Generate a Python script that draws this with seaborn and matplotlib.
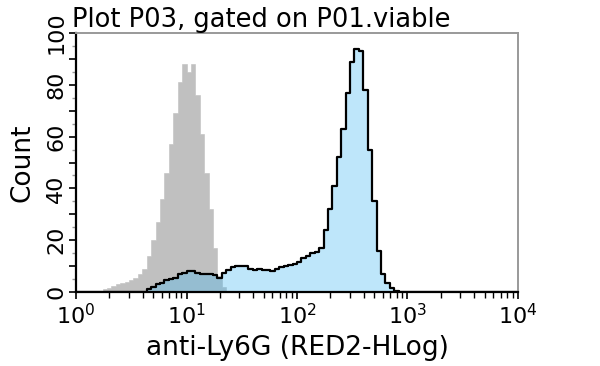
import numpy as np
import matplotlib
matplotlib.use("Agg")
import matplotlib.pyplot as plt
from matplotlib.ticker import MultipleLocator, FuncFormatter, LogLocator, NullFormatter
import seaborn as sns

sns.set_style("ticks")
plt.rcParams["font.family"] = ["DejaVu Sans"]
plt.rcParams["text.color"] = "black"
plt.rcParams["axes.labelcolor"] = "black"
plt.rcParams["xtick.labelcolor"] = "black"
plt.rcParams["ytick.labelcolor"] = "black"

# histogram bins are 0.04 decade wide (log10 space), counts start at the given bin center
BIN_W = 0.04
gray_start = 0.22
gray_counts = [0.5, 1, 1.5, 2.5, 3, 3.5, 4, 4.5, 5.5, 7, 9, 14, 20, 27, 36, 46, 57, 69,
               81, 88, 85, 88, 76, 61, 46, 32, 17, 6, 2, 0.5]
blue_start = 0.66
blue_counts = [1, 2, 3, 3.5, 4.5, 5, 5.5, 7, 7.5, 8, 8, 7.5, 7, 7, 7, 6.5, 5.5, 7.5, 8.5,
               9.5, 10, 10, 10, 9, 8.5, 9, 8.5, 8.5, 8, 9, 9.5, 10, 10.5, 11, 11.5, 13,
               14, 15, 15.5, 17, 24, 32, 41, 52, 63, 77, 89, 94, 93, 78, 55, 35, 16, 7,
               3.5, 1.5, 0.5]

title = "Plot P03, gated on P01.viable"
xlabel = "anti-Ly6G (RED2-HLog)"
ylabel = "Count"

gray_x = 10 ** (gray_start + BIN_W * np.arange(len(gray_counts)))
blue_x = 10 ** (blue_start + BIN_W * np.arange(len(blue_counts)))

fig = plt.figure(figsize=(6, 3.66), dpi=100)
ax = fig.add_axes([0.1267, 0.2022, 0.7366, 0.7076])

hist_kw = dict(binwidth=BIN_W, binrange=(0, 4), log_scale=True, element="step", ax=ax)
sns.histplot(x=gray_x, weights=gray_counts, fill=True, color="#c0c0c0", alpha=1,
             edgecolor="#c0c0c0", linewidth=0.4, **hist_kw)
sns.histplot(x=blue_x, weights=blue_counts, fill=True, color="#45b8f1", alpha=0.35,
             linewidth=0, **hist_kw)
sns.histplot(x=blue_x, weights=blue_counts, fill=False, color="black", linewidth=1.6,
             **hist_kw)

ax.set_xlim(1, 1e4)
ax.set_ylim(0, 100)

for side in ["left", "bottom"]:
    ax.spines[side].set_color("black")
    ax.spines[side].set_linewidth(1.6)
for side in ["top", "right"]:
    ax.spines[side].set_visible(True)
    ax.spines[side].set_color("#999999")
    ax.spines[side].set_linewidth(1.4)

ax.yaxis.set_major_locator(MultipleLocator(10))
ax.yaxis.set_minor_locator(MultipleLocator(5))
ax.yaxis.set_major_formatter(FuncFormatter(lambda v, p: f"{v:.0f}" if round(v) % 20 == 0 else ""))
ax.tick_params(axis="y", which="major", length=5, width=1.2, color="black", labelsize=16,
               labelrotation=90, pad=2)
ax.tick_params(axis="y", which="minor", length=3, width=1, color="#999999")
for lab in ax.get_yticklabels():
    lab.set_va("center")

ax.xaxis.set_major_locator(LogLocator(base=10))
ax.xaxis.set_minor_locator(LogLocator(base=10, subs=np.arange(2, 10)))
ax.xaxis.set_minor_formatter(NullFormatter())
ax.tick_params(axis="x", which="major", length=5, width=1.2, color="black", labelsize=16, pad=3)
ax.tick_params(axis="x", which="minor", length=4, width=1, color="black")

ax.set_xlabel(xlabel, fontsize=19, labelpad=5)
ax.set_ylabel(ylabel, fontsize=19, labelpad=8)
fig.text(72 / 600, 1 - 27 / 366, title, fontsize=18.5, ha="left", va="baseline")

fig.savefig("out.png", dpi=100)
